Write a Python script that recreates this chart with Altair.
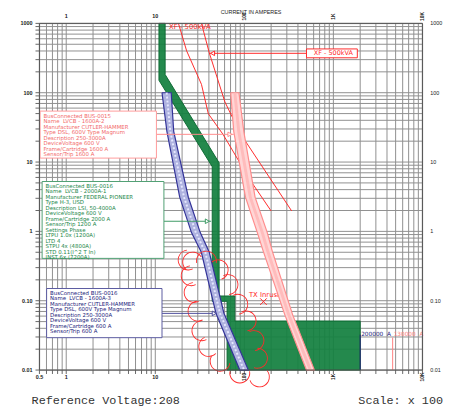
import math
import altair as alt
import pandas as pd

# ---------------- data (current in amperes x100, time in seconds) ----------------
x_grid = [m * 10.0 ** e for e in range(-1, 5) for m in range(1, 10)]
x_grid = [v for v in x_grid if 0.5 <= v <= 10000]
y_grid = [m * 10.0 ** e for e in range(-2, 4) for m in range(1, 10)]
y_grid = [v for v in y_grid if 0.01 <= v <= 1000]

y_label_vals = [1000, 100, 10, 1, 0.1, 0.01]
y_label_txt = ["1000", "100", "10", "1", "0.10", "0.01"]
x_label_vals = [0.5, 1, 10]
x_label_txt = ["0.5", "1", "10"]
x_label_vals_rot = [100, 1000, 10000]
x_label_txt_rot = ["100", "1K", "10K"]

# LVCB-2000A-1 (Federal Pioneer) band outline
green_x = [11.0, 11.0, 43.6, 43.6, 64.0, 64.0, 2000, 2000, 78.2, 78.2, 52.1, 52.1, 12.9, 12.9, 11.0]
green_y = [1000, 151, 8.55, 0.098, 0.098, 0.01, 0.01, 0.051, 0.051, 0.117, 0.117, 9.75, 183, 1000, 1000]

# LVCB-1600A-3 band
blue_t = [100, 27.7, 3.11, 0.96, 0.50, 0.066, 0.01]
blue_lo = [11.9, 13.5, 18.8, 25.5, 32.9, 48.0, 88.9]
blue_hi = [15.1, 16.1, 23.5, 32.0, 40.4, 59.0, 111]

# LVCB-1600A-2 band
pink_t = [100, 27.7, 3.11, 0.96, 0.518, 0.0625, 0.01]
pink_lo = [70.3, 76.0, 103, 140, 163, 285, 499]
pink_hi = [87.0, 98.6, 132, 181, 206, 349, 612]

# XF - 500kVA damage curves
xfA_x = [18.2, 22.5, 33.0, 39.4, 57.6, 117, 200]
xfA_y = [1000, 401, 132, 49.8, 25.1, 5.42, 1.97]
xfB_x = [33.0, 40.4, 60.5, 90.0, 340]
xfB_y = [1000, 376, 73.6, 25.9, 1.97]

# TX inrush scallop cloud: centres and outward direction (deg, clockwise from up)
inrush_x = [23.4, 25.3, 27.3, 30.2, 33.4, 39.9, 53.5, 88.9, 147.6, 26.3, 37.5, 50.8, 65.5, 84.4, 104.7, 128.3, 140.3]
inrush_y = [0.386, 0.229, 0.1315, 0.0708, 0.0369, 0.0219, 0.0134, 0.00907, 0.00796, 0.361, 0.373, 0.279, 0.1706, 0.0889, 0.0511, 0.0266, 0.0148]
inrush_dir = [253, 253, 253, 253, 253, 235, 200, 180, 150, 320, 0, 60, 73, 73, 73, 73, 100]
inrush_pt = [164]
inrush_pt_t = [0.097]

fault_blue = 2000
fault_pink = 4630

NB = "\u00a0"
pink_box_lines = ["BusConnected BUS-0015", "Name" + NB * 2 + "LVCB - 1600A-2", "Manufacturer CUTLER-HAMMER",
                  "Type DSL, 600V Type Magnum", "Description 250-3000A", "DeviceVoltage 600 V",
                  "Frame/Cartridge 1600 A", "Sensor/Trip 1600 A"]
green_box_lines = ["BusConnected BUS-0016", "Name" + NB * 2 + "LVCB - 2000A-1", "Manufacturer FEDERAL PIONEER",
                   "Type H-3, USD", "Description LSI, 50-4000A", "DeviceVoltage 600 V",
                   "Frame/Cartridge 2000 A", "Sensor/Trip 1200 A", "Settings Phase",
                   NB * 3 + "LTPU 1.0x (1200A)", NB * 3 + "LTD 4", NB * 3 + "STPU 4x (4800A)",
                   NB * 3 + "STD 0.11(I^2 T In)", NB * 3 + "INST 6x (7200A)"]
blue_box_lines = ["BusConnected BUS-0016", "Name" + NB * 2 + "LVCB - 1600A-3", "Manufacturer CUTLER-HAMMER",
                  "Type DSL, 600V Type Magnum", "Description 250-3000A", "DeviceVoltage 600 V",
                  "Frame/Cartridge 600 A", "Sensor/Trip 600 A"]

# ---------------- layout / styles ----------------
W, H = 390, 353
xs = alt.Scale(type="log", domain=[0.5, 10000], nice=False)
ys = alt.Scale(type="log", domain=[0.01, 1000], nice=False)
SANS = "DejaVu Sans"
LAB = "Liberation Sans"
MONO = "Liberation Mono"

RED = "#ff2a2a"
PINK_TXT = "#f26a6a"
GREEN = "#138040"
NAVY = "#22227a"
GRID = "#8f8f8f"


def X(f="x"):
    return alt.X(f + ":Q", scale=xs, axis=None)


def Y(f="y"):
    return alt.Y(f + ":Q", scale=ys, axis=None)


def poly_df(px, py):
    return pd.DataFrame({"x": px, "y": py, "o": list(range(len(px)))})


def band_df(t, lo, hi):
    px = list(lo) + list(hi[::-1]) + [lo[0]]
    py = list(t) + list(t[::-1]) + [t[0]]
    return poly_df(px, py)


def polygon(df, fill, stroke, sw=1.0, fo=1.0):
    return alt.Chart(df).mark_line(fill=fill, stroke=stroke, strokeWidth=sw, fillOpacity=fo,
                                   interpolate="linear").encode(x=X(), y=Y(), order="o:Q")


# grid and ticks
xg = pd.DataFrame({"x": x_grid})
yg = pd.DataFrame({"y": y_grid})
vgrid = alt.Chart(xg).mark_rule(color=GRID, strokeWidth=1).encode(x=X())
hgrid = alt.Chart(yg).mark_rule(color=GRID, strokeWidth=1).encode(y=Y())
xticks = alt.Chart(xg).mark_rule(color="#666", strokeWidth=1).encode(
    x=X(), y=alt.value(H), y2=alt.value(H + 4))
yticks = alt.Chart(yg).mark_rule(color="#666", strokeWidth=1).encode(
    y=Y(), x=alt.value(-4), x2=alt.value(0))
frame = alt.Chart(pd.DataFrame({"x": [0.5, 10000], "y": [0.01, 1000]})).mark_rect(
    fill=None, stroke="#555", strokeWidth=1).encode(
    x=alt.X("min(x):Q", scale=xs, axis=None), x2="max(x):Q",
    y=alt.Y("min(y):Q", scale=ys, axis=None), y2="max(y):Q")

green = polygon(poly_df(green_x, green_y), GREEN, "#0e6a34", 1, 0.93)

xf_df = pd.concat([
    pd.DataFrame({"x": xfA_x, "y": xfA_y, "o": range(len(xfA_x)), "g": "A"}),
    pd.DataFrame({"x": xfB_x, "y": xfB_y, "o": range(len(xfB_x)), "g": "B"}),
])
xf = alt.Chart(xf_df).mark_line(color=RED, strokeWidth=1).encode(x=X(), y=Y(), order="o:Q", detail="g:N")

xf_top_label = alt.Chart(pd.DataFrame({"x": [14.3], "y": [877], "t": ["XF - 500kVA"]})).mark_text(
    align="left", baseline="middle", font=SANS, fontSize=7, color=RED).encode(x=X(), y=Y(), text="t:N")

inrush_lbl = alt.Chart(pd.DataFrame({"x": [112.5], "y": [0.12], "t": ["TX Inrush"]})).mark_text(
    align="left", baseline="middle", font=SANS, fontSize=7, color=RED).encode(x=X(), y=Y(), text="t:N")
inrush_x_mark = alt.Chart(pd.DataFrame({"x": inrush_pt, "y": inrush_pt_t})).mark_point(
    shape="M-1,-1L1,1M-1,1L1,-1", size=45, filled=False, color=RED, strokeWidth=1, opacity=1).encode(x=X(), y=Y())

pink = polygon(band_df(pink_t, pink_lo, pink_hi), "#ffd6d6", "#ff8c8c", 1.2)
pink_mid = alt.Chart(pd.DataFrame({"x": [(a * b) ** 0.5 for a, b in zip(pink_lo, pink_hi)], "y": pink_t,
                                   "o": range(len(pink_t))})).mark_line(
    color="#ffbcbc", strokeWidth=3).encode(x=X(), y=Y(), order="o:Q")

blue = polygon(band_df(blue_t, blue_lo, blue_hi), "#aeb2df", "#333399", 1.2)
blue_mid = alt.Chart(pd.DataFrame({"x": [(a * b) ** 0.5 for a, b in zip(blue_lo, blue_hi)], "y": blue_t,
                                   "o": range(len(blue_t))})).mark_line(
    color="#e6e8ff", strokeWidth=2, strokeDash=[2, 2]).encode(x=X(), y=Y(), order="o:Q")

sc = pd.DataFrame({"x": inrush_x, "y": inrush_y, "d": inrush_dir})
sc["t0"] = [math.radians((d - 100) % 360) for d in inrush_dir]
sc["t1"] = sc["t0"] + math.radians(200)
scallops = alt.Chart(sc).mark_arc(radius=10.6, radius2=9.7, color=RED, stroke=None).encode(
    x=X(), y=Y(), theta=alt.Theta("t0:Q", scale=None), theta2="t1:Q")

# fault current markers
fault = alt.Chart(pd.DataFrame({"x": [fault_blue, fault_pink], "y": [0.0324, 0.0294], "y2": [0.01, 0.01],
                                "c": [NAVY, "#ff8080"]})).mark_rule(strokeWidth=1).encode(
    x=X(), y=Y(), y2="y2:Q", color=alt.Color("c:N", scale=None))
fault_txt = alt.Chart(pd.DataFrame({"x": [fault_blue, fault_pink], "y": [0.033, 0.033],
                                    "t": ["200000" + NB * 2 + "A", "130000" + NB * 2 + "A"],
                                    "c": [NAVY, "#ff8080"]})).mark_text(
    align="left", baseline="middle", dx=1, font=SANS, fontSize=5.9).encode(
    x=X(), y=Y(), text="t:N", color=alt.Color("c:N", scale=None))

# leaders
lead = alt.Chart(pd.DataFrame({
    "x": [10.3, 12.5, 11.9, 40.4], "x2": [76, 42.4, 49.4, 499], "y": [25.1, 1.40, 0.0657, 370],
    "c": ["#ff8c8c", "#3c9a64", "#4a4a9a", RED]})).mark_rule(strokeWidth=1).encode(
    x=X(), x2="x2:Q", y=Y(), color=alt.Color("c:N", scale=None))
arrows_r = alt.Chart(pd.DataFrame({"x": [68.9, 38.4, 45.9], "y": [25.1, 1.40, 0.0657],
                                   "c": ["#ff8c8c", "#3c9a64", "#4a4a9a"]})).mark_point(
    shape="triangle-right", size=22, filled=True, fill="white", strokeWidth=1, opacity=1).encode(
    x=X(), y=Y(), stroke=alt.Stroke("c:N", scale=None))
arrow_l = alt.Chart(pd.DataFrame({"x": [44.0], "y": [370]})).mark_point(
    shape="triangle-left", size=22, filled=True, fill="white", stroke=RED, strokeWidth=1, opacity=1).encode(
    x=X(), y=Y())

# boxes
boxes = alt.Chart(pd.DataFrame({
    "x": [0.509, 0.536, 0.602, 499], "x2": [10.3, 12.5, 11.9, 1857],
    "y": [54.3, 5.24, 0.150, 428], "y2": [11.4, 0.408, 0.0293, 319],
    "c": ["#ff9a9a", "#4f9f72", "#5a5aa0", RED]})).mark_rect(fill="white", strokeWidth=1).encode(
    x=X(), x2="x2:Q", y=Y(), y2="y2:Q", stroke=alt.Stroke("c:N", scale=None))


def box_text(lines, x, y, color):
    return alt.Chart(pd.DataFrame({"x": [x], "y": [y], "t": ["\n".join(lines)]})).mark_text(
        align="left", baseline="top", lineBreak="\n", lineHeight=5.6, font=SANS, fontSize=5.5,
        dx=3.5, dy=2.6, color=color).encode(x=X(), y=Y(), text="t:N")


t_pink = box_text(pink_box_lines, 0.509, 54.3, PINK_TXT)
t_green = box_text(green_box_lines, 0.536, 5.24, "#23874a")
t_blue = box_text(blue_box_lines, 0.602, 0.150, NAVY)
t_xf = alt.Chart(pd.DataFrame({"x": [1000], "y": [370], "t": ["XF - 500kVA"]})).mark_text(
    align="center", baseline="middle", font=SANS, fontSize=6.6, color=RED).encode(x=X(), y=Y(), text="t:N")

# axis labels
ylab_df = pd.DataFrame({"y": y_label_vals, "t": y_label_txt})
ylab_l = alt.Chart(ylab_df).mark_text(align="right", baseline="middle", font=LAB, fontSize=5.5,
                                      fontWeight="bold", color="#222").encode(
    x=alt.value(-7), y=Y(), text="t:N")
ylab_r = alt.Chart(ylab_df).mark_text(align="left", baseline="middle", font=LAB, fontSize=5.5,
                                      color="#222").encode(
    x=alt.value(W + 8), y=Y(), text="t:N")
xlab_df = pd.DataFrame({"x": x_label_vals, "t": x_label_txt})
xlab_b = alt.Chart(xlab_df).mark_text(baseline="middle", font=LAB, fontSize=5.5, fontWeight="bold",
                                      color="#222").encode(x=X(), y=alt.value(H + 7), text="t:N")
xlab_t = alt.Chart(xlab_df[xlab_df.x >= 1]).mark_text(baseline="middle", font=LAB, fontSize=5.5,
                                                      fontWeight="bold", color="#222").encode(
    x=X(), y=alt.value(-7), text="t:N")
xrot_df = pd.DataFrame({"x": x_label_vals_rot, "t": x_label_txt_rot})
xrot_b = alt.Chart(xrot_df).mark_text(baseline="middle", angle=270, font=LAB, fontSize=5,
                                      fontWeight="bold", color="#222").encode(
    x=X(), y=alt.value(H + 7), text="t:N")
xrot_t = alt.Chart(xrot_df).mark_text(baseline="middle", angle=270, font=LAB, fontSize=5,
                                      fontWeight="bold", color="#222").encode(
    x=X(), y=alt.value(-7), text="t:N")
xtitle = alt.Chart(pd.DataFrame({"t": ["CURRENT IN AMPERES"]})).mark_text(
    align="center", baseline="middle", font=LAB, fontSize=5.5, color="#222").encode(
    x=alt.value(215.5), y=alt.value(-12), text="t:N")

foot_l = alt.Chart(pd.DataFrame({"t": ["Reference Voltage:208"]})).mark_text(
    align="left", baseline="middle", font=MONO, fontSize=12, color="#333").encode(
    x=alt.value(-8), y=alt.value(384), text="t:N")
foot_r = alt.Chart(pd.DataFrame({"t": ["Scale: x 100"]})).mark_text(
    align="right", baseline="middle", font=MONO, fontSize=12, color="#333").encode(
    x=alt.value(411), y=alt.value(384), text="t:N")

chart = alt.layer(
    vgrid, hgrid, xticks, yticks, green, xf, xf_top_label, inrush_lbl, inrush_x_mark, fault, fault_txt,
    pink, pink_mid, blue, blue_mid, scallops,
    lead, boxes, arrows_r, arrow_l, t_pink, t_green, t_blue, t_xf, frame,
    ylab_l, ylab_r, xlab_b, xlab_t, xrot_b, xrot_t, xtitle, foot_l, foot_r,
).properties(
    width=W, height=H, autosize="none",
    padding={"left": 32, "top": 12, "right": 24, "bottom": 36},
).configure_view(stroke=None).configure(background="white")

chart.save("out.html", embed_options={"renderer": "svg", "actions": False})
